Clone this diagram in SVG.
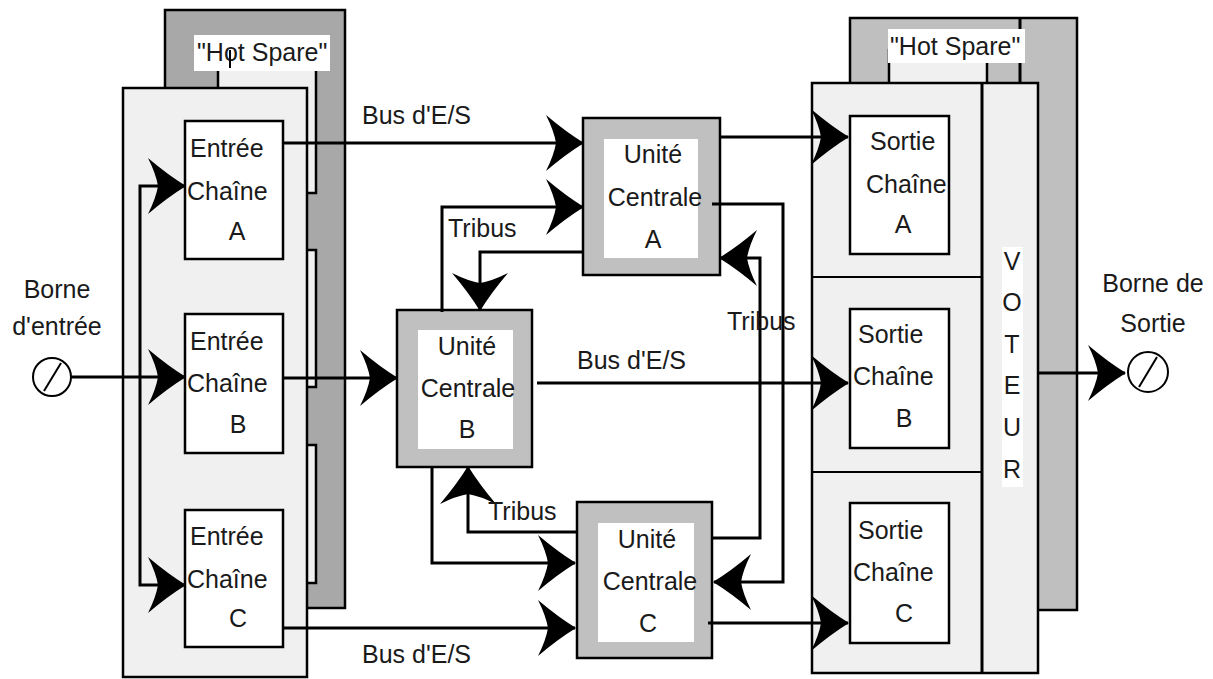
<svg xmlns="http://www.w3.org/2000/svg" width="1213" height="679" viewBox="0 0 1213 679">
  <defs>
    <marker id="arrow" markerUnits="userSpaceOnUse" viewBox="-40 -31 43 62" markerWidth="43" markerHeight="62" refX="0" refY="0" orient="auto">
      <path d="M1,0 Q-17,-11 -37,-28 Q-29,-12 -27,0 Q-29,12 -37,28 Q-17,11 1,0 Z" fill="#000"/>
    </marker>
    <style>
      text { font-family: "Liberation Sans", Arial, sans-serif; font-size: 25px; fill: #1a1a1a; }
      .mid { text-anchor: middle; }
      .panel { fill: #f0f0f0; stroke: #000; stroke-width: 2.5; }
      .box { fill: #fff; stroke: #000; stroke-width: 2.5; }
      .cpu { fill: #c0c0c0; stroke: #000; stroke-width: 2.5; }
      .inner { fill: #fff; stroke: none; }
      .wire { fill: none; stroke: #000; stroke-width: 3; }
      .wire-a { fill: none; stroke: #000; stroke-width: 3; marker-end: url(#arrow); }
      .thin { fill: none; stroke: #000; stroke-width: 2; }
      .tag { fill: #fff; }
    </style>
  </defs>

  <!-- Input side: hot spare stack -->
  <g id="input-spare">
    <rect x="165" y="10" width="180" height="598" fill="#a8a8a8" stroke="#000" stroke-width="2.5"/>
    <rect x="218" y="50" width="98" height="143" class="panel"/>
    <rect x="218" y="250" width="98" height="137" class="panel"/>
    <rect x="218" y="445" width="98" height="138" class="panel"/>
    <rect x="194" y="35" width="136" height="36" class="tag"/>
    <text x="197" y="61">"Hot Spare"</text>
    <line x1="230" y1="50" x2="230" y2="68" class="thin"/>
  </g>

  <g id="input-panel">
    <rect x="123" y="88" width="184" height="589" class="panel"/>
  </g>

  <g id="entree-a">
    <rect x="185" y="121" width="98" height="138" class="box"/>
    <text x="190" y="157">Entrée</text>
    <text x="187" y="200">Chaîne</text>
    <text x="237" y="240" class="mid">A</text>
  </g>
  <g id="entree-b">
    <rect x="185" y="314" width="98" height="139" class="box"/>
    <text x="190" y="350">Entrée</text>
    <text x="187" y="392">Chaîne</text>
    <text x="238" y="433" class="mid">B</text>
  </g>
  <g id="entree-c">
    <rect x="185" y="510" width="98" height="137" class="box"/>
    <text x="190" y="545">Entrée</text>
    <text x="187" y="588">Chaîne</text>
    <text x="238" y="627" class="mid">C</text>
  </g>

  <!-- Input terminal -->
  <g id="borne-entree">
    <circle cx="52" cy="377" r="19" fill="#fff" stroke="#000" stroke-width="2"/>
    <line x1="44" y1="391" x2="61" y2="363" class="thin"/>
    <text x="57" y="298" class="mid">Borne</text>
    <text x="57" y="335" class="mid">d'entrée</text>
  </g>

  <!-- Central units -->
  <g id="unite-a">
    <rect x="583" y="118" width="137" height="157" class="cpu"/>
    <rect x="604" y="139" width="94" height="119" class="inner"/>
    <text x="653" y="163" class="mid">Unité</text>
    <text x="655" y="206" class="mid">Centrale</text>
    <text x="653" y="248" class="mid">A</text>
  </g>
  <g id="unite-b">
    <rect x="397" y="310" width="135" height="157" class="cpu"/>
    <rect x="418" y="330" width="95" height="119" class="inner"/>
    <text x="467" y="355" class="mid">Unité</text>
    <text x="468" y="397" class="mid">Centrale</text>
    <text x="467" y="438" class="mid">B</text>
  </g>
  <g id="unite-c">
    <rect x="577" y="502" width="135" height="156" class="cpu"/>
    <rect x="598" y="523" width="96" height="119" class="inner"/>
    <text x="647" y="548" class="mid">Unité</text>
    <text x="650" y="590" class="mid">Centrale</text>
    <text x="648" y="632" class="mid">C</text>
  </g>

  <!-- Output side: hot spare stack -->
  <g id="output-spare">
    <rect x="850" y="18" width="227" height="592" fill="#bfbfbf" stroke="#000" stroke-width="2.5"/>
    <rect x="889" y="50" width="98" height="40" class="panel"/>
    <line x1="1020" y1="18" x2="1020" y2="83" class="wire"/>
    <rect x="888" y="29" width="137" height="34" class="tag"/>
    <text x="890" y="55">"Hot Spare"</text>
  </g>

  <g id="output-panel">
    <rect x="812" y="83" width="226" height="590" class="panel"/>
    <line x1="982" y1="83" x2="982" y2="673" class="wire"/>
    <line x1="812" y1="277" x2="982" y2="277" class="thin"/>
    <line x1="812" y1="472" x2="982" y2="472" class="thin"/>
  </g>

  <g id="sortie-a">
    <rect x="850" y="116" width="99" height="138" class="box"/>
    <text x="870" y="150">Sortie</text>
    <text x="866" y="193">Chaîne</text>
    <text x="903" y="233" class="mid">A</text>
  </g>
  <g id="sortie-b">
    <rect x="850" y="309" width="99" height="139" class="box"/>
    <text x="858" y="343">Sortie</text>
    <text x="853" y="385">Chaîne</text>
    <text x="904" y="427" class="mid">B</text>
  </g>
  <g id="sortie-c">
    <rect x="850" y="503" width="99" height="140" class="box"/>
    <text x="858" y="539">Sortie</text>
    <text x="853" y="581">Chaîne</text>
    <text x="904" y="622" class="mid">C</text>
  </g>

  <g id="voteur">
    <rect x="1002" y="247" width="21" height="240" class="tag"/>
    <text x="1012" y="270" class="mid">V</text>
    <text x="1012" y="311" class="mid">O</text>
    <text x="1012" y="353" class="mid">T</text>
    <text x="1012" y="394" class="mid">E</text>
    <text x="1012" y="436" class="mid">U</text>
    <text x="1012" y="478" class="mid">R</text>
  </g>

  <!-- Output terminal -->
  <g id="borne-sortie">
    <circle cx="1148" cy="372" r="20" fill="#fff" stroke="#000" stroke-width="2"/>
    <line x1="1139" y1="387" x2="1157" y2="357" class="thin"/>
    <text x="1153" y="292" class="mid">Borne de</text>
    <text x="1153" y="332" class="mid">Sortie</text>
  </g>

  <!-- Connectors -->
  <g id="connectors">
    <path d="M71,377 L185,377" class="wire-a"/>
    <path d="M140,378 L140,186 L185,186" class="wire-a"/>
    <path d="M140,378 L140,585 L185,585" class="wire-a"/>

    <path d="M283,143 L583,143" class="wire-a"/>
    <path d="M283,378 L397,378" class="wire-a"/>
    <path d="M283,628 L575,628" class="wire-a"/>

    <path d="M442,312 L442,207 L583,207" class="wire-a"/>
    <path d="M583,252 L480,252 L480,310" class="wire-a"/>
    <path d="M712,204 L783,204 L783,582 L714,582" class="wire-a"/>
    <path d="M712,538 L760,538 L760,258 L720,258" class="wire-a"/>
    <path d="M432,467 L432,563 L575,563" class="wire-a"/>
    <path d="M577,532 L468,532 L468,467" class="wire-a"/>

    <path d="M537,383 L848,383" class="wire-a"/>
    <path d="M720,137 L848,137" class="wire-a"/>
    <path d="M708,623 L848,623" class="wire-a"/>
    <path d="M1038,373 L1125,373" class="wire-a"/>

    <text x="362" y="124">Bus d'E/S</text>
    <text x="577" y="369">Bus d'E/S</text>
    <text x="362" y="663">Bus d'E/S</text>
    <text x="448" y="237">Tribus</text>
    <text x="727" y="330">Tribus</text>
    <text x="488" y="520">Tribus</text>
  </g>
</svg>
